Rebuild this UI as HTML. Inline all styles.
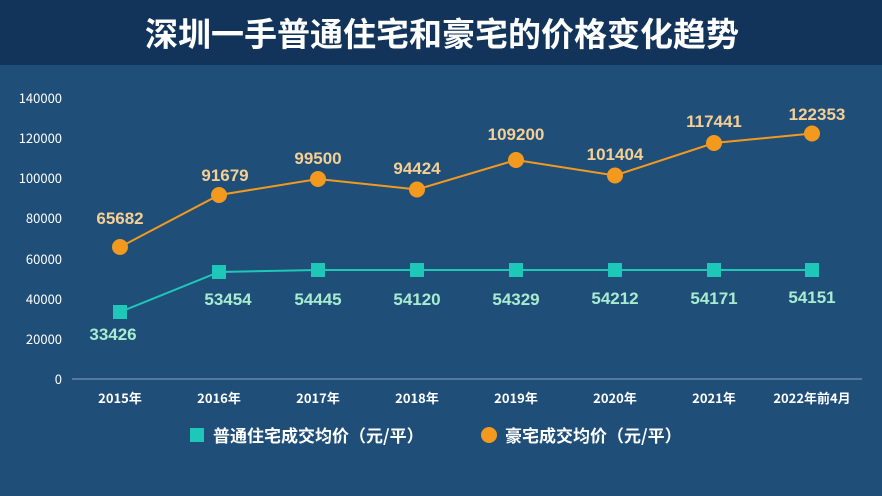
<!DOCTYPE html><html><head><meta charset="utf-8"><style>
body{margin:0;width:882px;height:496px;overflow:hidden;background:#1f4e79;font-family:"Liberation Sans","Noto Sans CJK SC",sans-serif}
</style></head><body>
<svg width="882" height="496" xmlns="http://www.w3.org/2000/svg" style="position:absolute;left:0;top:0">
<rect x="0" y="0" width="882" height="496" fill="#1f4e79"/>
<rect x="0" y="0" width="882" height="65" fill="#12345a"/>
<text x="442" y="46" text-anchor="middle" font-size="33" font-weight="bold" fill="#fff" font-family="Noto Sans CJK SC,sans-serif">深圳一手普通住宅和豪宅的价格变化趋势</text>
<g font-size="13" fill="#fff" text-anchor="end" font-family="Noto Sans CJK SC,sans-serif">
<text x="62" y="384">0</text><text x="62" y="344">20000</text><text x="62" y="304">40000</text><text x="62" y="264">60000</text><text x="62" y="223">80000</text><text x="62" y="183">100000</text><text x="62" y="143">120000</text><text x="62" y="103">140000</text>
</g>
<line x1="72" y1="379" x2="862" y2="379" stroke="#8aa4c0" stroke-width="1"/>
<g font-size="13" font-weight="bold" fill="#fff" text-anchor="middle" font-family="Noto Sans CJK SC,sans-serif">
<text x="120" y="403">2015年</text><text x="219" y="403">2016年</text><text x="318" y="403">2017年</text><text x="417" y="403">2018年</text><text x="516" y="403">2019年</text><text x="615" y="403">2020年</text><text x="714" y="403">2021年</text><text x="812" y="403">2022年前4月</text>
</g>
<polyline fill="none" stroke="#1ec8b8" stroke-width="2" points="120,312 219,272 318,270 417,270 516,270 615,270 714,270 812,270"/>
<g fill="#1ec8b8">
<rect x="113" y="305" width="14" height="14"/><rect x="212" y="265" width="14" height="14"/><rect x="311" y="263" width="14" height="14"/><rect x="410" y="263" width="14" height="14"/><rect x="509" y="263" width="14" height="14"/><rect x="608" y="263" width="14" height="14"/><rect x="707" y="263" width="14" height="14"/><rect x="805" y="263" width="14" height="14"/>
</g>
<polyline fill="none" stroke="#f39a1e" stroke-width="2" points="120,247 219,195 318,179 417,189.5 516,160 615,175.5 714,143 812,133.5"/>
<g fill="#f39a1e">
<circle cx="120" cy="247" r="8"/><circle cx="219" cy="195" r="8"/><circle cx="318" cy="179" r="8"/><circle cx="417" cy="189.5" r="8"/><circle cx="516" cy="160" r="8"/><circle cx="615" cy="175.5" r="8"/><circle cx="714" cy="143" r="8"/><circle cx="812" cy="133.5" r="8"/>
</g>
<g font-size="17" font-weight="bold" fill="#f5cf94" text-anchor="middle">
<text x="120" y="224">65682</text><text x="225" y="181">91679</text><text x="318" y="164">99500</text><text x="417" y="174">94424</text><text x="516" y="140">109200</text><text x="615" y="160">101404</text><text x="714" y="127">117441</text><text x="817" y="120">122353</text>
</g>
<g font-size="17" font-weight="bold" fill="#a8ecd0" text-anchor="middle">
<text x="113" y="340">33426</text><text x="228" y="305">53454</text><text x="318" y="305">54445</text><text x="417" y="305">54120</text><text x="516" y="305">54329</text><text x="615" y="304">54212</text><text x="714" y="304">54171</text><text x="812" y="303">54151</text>
</g>
<rect x="190" y="428" width="14" height="14" fill="#1ec8b8"/>
<text x="213" y="442" font-size="17" font-weight="bold" fill="#fff" font-family="Noto Sans CJK SC,sans-serif">普通住宅成交均价（元/平）</text>
<circle cx="489" cy="435" r="8" fill="#f39a1e"/>
<text x="505" y="442" font-size="17" font-weight="bold" fill="#fff" font-family="Noto Sans CJK SC,sans-serif">豪宅成交均价（元/平）</text>
</svg>
</body></html>
